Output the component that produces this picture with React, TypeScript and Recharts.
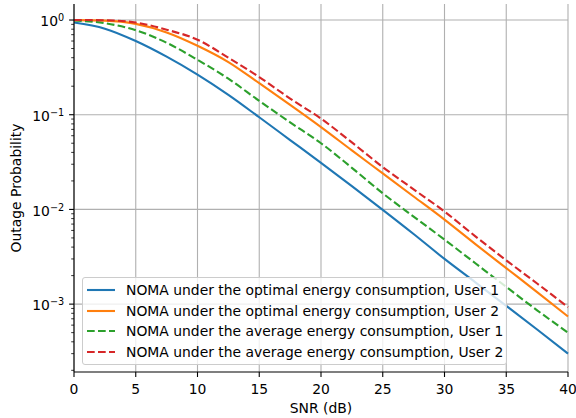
import React from 'react';
import { LineChart, Line, XAxis, YAxis, CartesianGrid, ReferenceLine, Legend } from 'recharts';

const snr = [0, 2.5, 5, 7.5, 10, 12.5, 15, 17.5, 20, 22.5, 25, 27.5, 30, 32.5, 35, 37.5, 40];
const optUser1 = [0.94, 0.81, 0.6, 0.41, 0.265, 0.162, 0.094, 0.054, 0.031, 0.0176, 0.0099, 0.0055, 0.003, 0.0017, 0.00096, 0.00054, 0.0003];
const optUser2 = [0.998, 0.985, 0.91, 0.74, 0.535, 0.36, 0.215, 0.127, 0.074, 0.042, 0.024, 0.0137, 0.0078, 0.0043, 0.0024, 0.00134, 0.00074];
const avgUser1 = [0.99, 0.925, 0.78, 0.575, 0.38, 0.24, 0.14, 0.083, 0.05, 0.0275, 0.0148, 0.0084, 0.0048, 0.0027, 0.00152, 0.00086, 0.0005];
const avgUser2 = [1.0, 0.995, 0.94, 0.79, 0.62, 0.4, 0.25, 0.148, 0.091, 0.051, 0.028, 0.0163, 0.0095, 0.0052, 0.0029, 0.00165, 0.00093];

const xTicks = [0, 5, 10, 15, 20, 25, 30, 35, 40];
const majorTicks = [1, 0.1, 0.01, 0.001];
const majorLabels = ['0', '\u22121', '\u22122', '\u22123'];
const minorSteps = [2, 3, 4, 5, 6, 7, 8, 9];

const series = [
  { key: 'opt1', name: 'NOMA under the optimal energy consumption, User 1', color: '#1f77b4', dashed: false },
  { key: 'opt2', name: 'NOMA under the optimal energy consumption, User 2', color: '#ff7f0e', dashed: false },
  { key: 'avg1', name: 'NOMA under the average energy consumption, User 1', color: '#2ca02c', dashed: true },
  { key: 'avg2', name: 'NOMA under the average energy consumption, User 2', color: '#d62728', dashed: true },
];

const data = snr.map((s, i) => ({
  snr: s,
  opt1: optUser1[i],
  opt2: optUser2[i],
  avg1: avgUser1[i],
  avg2: avgUser2[i],
}));

const yDomain = [1.92e-4, 1.476];
const minorTicks = [0.0001, 0.001, 0.01, 0.1]
  .flatMap((d) => minorSteps.map((m) => +(d * m).toPrecision(3)))
  .filter((v) => v >= yDomain[0] && v <= yDomain[1]);
const yTicks = [...majorTicks, ...minorTicks];

const FONT = 'DejaVu Sans, sans-serif';
const DASH = '7.7 3.3';

function YTick(props: any) {
  const { x, y, payload } = props;
  const idx = majorTicks.indexOf(payload.value);
  const major = idx >= 0;
  return (
    <g>
      <line x1={x} x2={x - (major ? 4.9 : 2.8)} y1={y} y2={y} stroke="#000" strokeWidth={major ? 1.1 : 0.8} />
      {major && (
        <text x={x - 9.8} y={y + 6.2} textAnchor="end" fontSize={13.9} fontFamily={FONT} fill="#000">
          <tspan>10</tspan>
          <tspan dy={-5} fontSize={9.7}>{majorLabels[idx]}</tspan>
        </text>
      )}
    </g>
  );
}

function LegendBox() {
  return (
    <div
      style={{
        background: 'rgba(255,255,255,0.8)',
        border: '1px solid #cccccc',
        borderRadius: 3,
        padding: '2px 0 2px 4px',
        fontFamily: FONT,
        fontSize: 13.9,
        lineHeight: '20.6px',
        color: '#000',
        boxSizing: 'border-box',
        width: 425,
        height: 88,
        textAlign: 'left',
        overflow: 'visible',
      }}
    >
      {series.map((s) => (
        <div key={s.key} style={{ display: 'flex', alignItems: 'center', height: 20.6, whiteSpace: 'nowrap' }}>
          <svg width={28} height={6} style={{ marginRight: 11, flexShrink: 0, display: 'block' }}>
            <line x1={0} x2={28} y1={3} y2={3} stroke={s.color} strokeWidth={2.1} strokeDasharray={s.dashed ? DASH : undefined} />
          </svg>
          <span style={{ flexShrink: 0 }}>{s.name}</span>
        </div>
      ))}
    </div>
  );
}

export default function App() {
  return (
    <div style={{ position: 'absolute', left: 0, top: 0, width: 576, height: 418, background: '#fff', fontFamily: FONT }}>
      <LineChart width={576} height={418} data={data} margin={{ top: 4, right: 8, bottom: 0, left: 0 }}>
        <CartesianGrid horizontal={false} stroke="#b0b0b0" strokeWidth={1.1} strokeDasharray="" />
        {majorTicks.map((v) => (
          <ReferenceLine key={v} y={v} stroke="#b0b0b0" strokeWidth={1.1} />
        ))}
        <XAxis
          dataKey="snr"
          type="number"
          domain={[0, 40]}
          ticks={xTicks}
          interval={0}
          height={46}
          tickSize={5}
          tickMargin={7}
          axisLine={{ stroke: '#000', strokeWidth: 1.1 }}
          tickLine={{ stroke: '#000', strokeWidth: 1.1 }}
          tick={{ fill: '#000', fontSize: 13.9, fontFamily: FONT }}
          label={{
            content: (p: any) => {
              const vb = p.viewBox;
              return (
                <text x={vb.x + vb.width / 2} y={412.5} textAnchor="middle" fontSize={13.9} fontFamily={FONT} fill="#000">
                  SNR (dB)
                </text>
              );
            },
          }}
        />
        <XAxis xAxisId="top" orientation="top" type="number" domain={[0, 40]} height={0} tick={false} tickLine={false} axisLine={{ stroke: '#000', strokeWidth: 1.1 }} />
        <YAxis
          scale="log"
          type="number"
          domain={yDomain}
          allowDataOverflow
          ticks={yTicks}
          interval={0}
          width={74}
          tickSize={0}
          tickMargin={0}
          tickLine={false}
          axisLine={{ stroke: '#000', strokeWidth: 1.1 }}
          tick={<YTick />}
          label={{
            content: (p: any) => {
              const vb = p.viewBox;
              const cy = vb.y + vb.height / 2;
              return (
                <text x={16} y={cy} transform={`rotate(-90 16 ${cy})`} textAnchor="middle" dominantBaseline="central" fontSize={13.9} fontFamily={FONT} fill="#000">
                  Outage Probability
                </text>
              );
            },
          }}
        />
        <YAxis yAxisId="right" orientation="right" scale="log" type="number" domain={yDomain} width={0} tick={false} tickLine={false} axisLine={{ stroke: '#000', strokeWidth: 1.1 }} />
        {series.map((s) => (
          <Line
            key={s.key}
            type="monotone"
            dataKey={s.key}
            name={s.name}
            stroke={s.color}
            strokeWidth={2.1}
            strokeDasharray={s.dashed ? DASH : undefined}
            dot={false}
            activeDot={false}
            isAnimationActive={false}
          />
        ))}
        <Legend
          layout="vertical"
          align="center"
          verticalAlign="middle"
          content={() => <LegendBox />}
          wrapperStyle={{ position: 'absolute', left: 82, top: 277, width: 425, height: 88 }}
        />
      </LineChart>
    </div>
  );
}
